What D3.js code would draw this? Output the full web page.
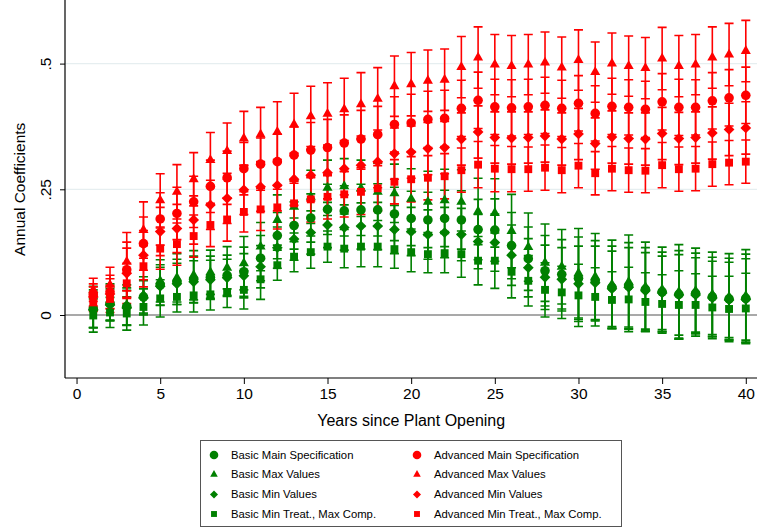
<!DOCTYPE html>
<html>
<head>
<meta charset="utf-8">
<script src="https://cdn.jsdelivr.net/npm/d3@7"></script>
<style>
  html, body { margin: 0; padding: 0; background: #fff; }
  svg { display: block; font-family: "Liberation Sans", Arial, Helvetica, sans-serif; }
</style>
</head>
<body>
<svg id="chart" width="758" height="528"></svg>
<script>
// ---- data -------------------------------------------------------------
const years = [1,2,3,4,5,6,7,8,9,10,11,12,13,14,15,16,17,18,19,20,
               21,22,23,24,25,26,27,28,29,30,31,32,33,34,35,36,37,38,39,40];

const xTicks = [0,5,10,15,20,25,30,35,40];
const yTicks = [0, 0.25, 0.5];
const yTickLabels = ["0", ".25", ".5"];

// Basic specification estimates (green)
const basicMain = [0.012,0.023,0.017,0.036,0.060,0.066,0.071,0.075,0.079,0.086,
                   0.113,0.158,0.178,0.193,0.210,0.207,0.209,0.209,0.201,0.192,
                   0.189,0.192,0.189,0.170,0.169,0.138,0.112,0.088,0.081,0.073,
                   0.068,0.055,0.058,0.051,0.046,0.041,0.043,0.036,0.032,0.033];
const basicMainCI = [0.038,0.034,0.037,0.034,0.040,0.045,0.046,0.042,0.040,0.049,
                     0.045,0.046,0.047,0.048,0.050,0.050,0.051,0.052,0.053,0.054,
                     0.055,0.056,0.058,0.060,0.062,0.066,0.063,0.070,0.069,0.082,
                     0.080,0.082,0.086,0.083,0.079,0.087,0.080,0.079,0.081,0.088];

const basicMax = [0.016,0.026,0.020,0.040,0.068,0.074,0.079,0.085,0.094,0.103,
                  0.136,0.189,0.215,0.235,0.253,0.256,0.252,0.245,0.242,0.231,
                  0.225,0.228,0.225,0.206,0.203,0.167,0.135,0.104,0.096,0.083,
                  0.076,0.061,0.066,0.056,0.051,0.046,0.048,0.041,0.036,0.038];
const basicMaxCI = [0.041,0.036,0.040,0.036,0.042,0.048,0.049,0.044,0.042,0.053,
                    0.048,0.050,0.052,0.053,0.055,0.055,0.056,0.057,0.058,0.060,
                    0.061,0.062,0.064,0.066,0.068,0.073,0.068,0.077,0.074,0.089,
                    0.086,0.088,0.093,0.089,0.084,0.094,0.085,0.084,0.086,0.092];

const basicMin = [0.010,0.020,0.014,0.034,0.057,0.062,0.066,0.070,0.074,0.078,
                  0.096,0.134,0.151,0.164,0.179,0.174,0.177,0.177,0.170,0.166,
                  0.160,0.164,0.160,0.146,0.144,0.119,0.094,0.075,0.071,0.062,
                  0.064,0.052,0.055,0.048,0.044,0.040,0.040,0.034,0.030,0.031];
const basicMinCI = [0.035,0.032,0.035,0.034,0.038,0.041,0.042,0.039,0.037,0.044,
                    0.042,0.041,0.042,0.043,0.045,0.045,0.046,0.047,0.048,0.048,
                    0.049,0.050,0.052,0.054,0.057,0.060,0.058,0.064,0.063,0.075,
                    0.073,0.075,0.079,0.076,0.073,0.080,0.074,0.073,0.075,0.081];

const basicMinTreat = [-0.001,0.005,0.003,0.016,0.033,0.036,0.039,0.041,0.045,0.050,
                       0.071,0.099,0.116,0.125,0.136,0.132,0.136,0.136,0.131,0.125,
                       0.121,0.123,0.121,0.108,0.108,0.086,0.068,0.050,0.045,0.039,
                       0.036,0.030,0.031,0.026,0.022,0.020,0.020,0.015,0.012,0.013];
const basicMinTreatCI = [0.033,0.030,0.033,0.036,0.037,0.030,0.033,0.031,0.030,0.038,
                         0.040,0.030,0.030,0.032,0.031,0.038,0.040,0.040,0.038,0.039,
                         0.037,0.039,0.046,0.048,0.055,0.052,0.050,0.054,0.052,0.062,
                         0.058,0.056,0.064,0.058,0.058,0.068,0.062,0.062,0.065,0.070];

// Advanced specification estimates (red)
const advMain = [0.040,0.046,0.090,0.142,0.191,0.202,0.225,0.256,0.273,0.291,
                 0.300,0.305,0.318,0.328,0.333,0.342,0.350,0.359,0.379,0.382,
                 0.389,0.391,0.411,0.427,0.414,0.412,0.414,0.417,0.411,0.421,
                 0.401,0.415,0.413,0.409,0.424,0.413,0.413,0.426,0.432,0.437];
const advMainCI = [0.022,0.033,0.055,0.053,0.052,0.052,0.051,0.052,0.053,0.052,
                   0.052,0.055,0.056,0.055,0.056,0.056,0.057,0.056,0.055,0.057,
                   0.056,0.056,0.056,0.056,0.055,0.056,0.055,0.056,0.056,0.055,
                   0.055,0.056,0.055,0.056,0.056,0.056,0.055,0.056,0.056,0.056];

const advMax = [0.050,0.060,0.106,0.169,0.228,0.245,0.270,0.308,0.326,0.351,
                0.359,0.364,0.379,0.395,0.400,0.409,0.419,0.430,0.455,0.459,
                0.466,0.468,0.493,0.512,0.498,0.495,0.498,0.502,0.492,0.507,
                0.483,0.500,0.495,0.491,0.510,0.495,0.498,0.512,0.518,0.525];
const advMaxCI = [0.023,0.035,0.058,0.056,0.053,0.054,0.053,0.055,0.056,0.054,
                  0.054,0.060,0.062,0.060,0.062,0.062,0.063,0.062,0.060,0.063,
                  0.061,0.061,0.061,0.061,0.060,0.061,0.060,0.061,0.061,0.060,
                  0.060,0.061,0.060,0.061,0.062,0.061,0.060,0.061,0.062,0.061];

const advMin = [0.036,0.042,0.083,0.119,0.166,0.172,0.189,0.219,0.232,0.249,
                0.255,0.258,0.270,0.278,0.283,0.291,0.298,0.305,0.321,0.324,
                0.331,0.333,0.350,0.364,0.353,0.352,0.353,0.356,0.350,0.360,
                0.341,0.354,0.351,0.350,0.361,0.351,0.353,0.362,0.369,0.372];
const advMinCI = [0.020,0.030,0.050,0.049,0.048,0.048,0.048,0.049,0.050,0.049,
                  0.049,0.051,0.052,0.051,0.052,0.052,0.052,0.052,0.051,0.052,
                  0.052,0.052,0.052,0.052,0.051,0.052,0.051,0.052,0.052,0.051,
                  0.051,0.052,0.051,0.052,0.052,0.052,0.051,0.052,0.052,0.052];

const advMinTreat = [0.025,0.032,0.063,0.097,0.132,0.141,0.157,0.179,0.190,0.205,
                     0.210,0.214,0.222,0.230,0.235,0.240,0.245,0.252,0.265,0.270,
                     0.273,0.276,0.288,0.299,0.291,0.290,0.290,0.293,0.288,0.297,
                     0.282,0.291,0.288,0.287,0.298,0.290,0.291,0.300,0.303,0.305];
const advMinTreatCI = [0.018,0.027,0.040,0.041,0.041,0.042,0.042,0.043,0.043,0.040,
                       0.042,0.043,0.044,0.045,0.044,0.045,0.045,0.045,0.044,0.045,
                       0.044,0.045,0.044,0.046,0.046,0.045,0.044,0.045,0.045,0.044,
                       0.043,0.044,0.044,0.044,0.045,0.044,0.044,0.044,0.044,0.043];

const GREEN = "#008000";
const RED = "#ff0000";

const series = [
  { label: "Basic Main Specification",        values: basicMain,     ci: basicMainCI,     color: GREEN, shape: "circle" },
  { label: "Basic Max Values",                values: basicMax,      ci: basicMaxCI,      color: GREEN, shape: "triangle" },
  { label: "Basic Min Values",                values: basicMin,      ci: basicMinCI,      color: GREEN, shape: "diamond" },
  { label: "Basic Min Treat., Max Comp.",     values: basicMinTreat, ci: basicMinTreatCI, color: GREEN, shape: "square" },
  { label: "Advanced Main Specification",     values: advMain,       ci: advMainCI,       color: RED,   shape: "circle" },
  { label: "Advanced Max Values",             values: advMax,        ci: advMaxCI,        color: RED,   shape: "triangle" },
  { label: "Advanced Min Values",             values: advMin,        ci: advMinCI,        color: RED,   shape: "diamond" },
  { label: "Advanced Min Treat., Max Comp.",  values: advMinTreat,   ci: advMinTreatCI,   color: RED,   shape: "square" }
];

// ---- layout -----------------------------------------------------------
const svg = d3.select("#chart");
const plot = { left: 65, right: 757, top: 0, bottom: 378 };

const x = d3.scaleLinear().domain([-0.69, 40.67]).range([plot.left, plot.right]);
const y = d3.scaleLinear().domain([-0.1253, 0.6265]).range([plot.bottom, plot.top]);

// marker path generator, centred on the origin
function markerPath(shape, s) {
  if (shape === "circle") {
    return d3.symbol(d3.symbolCircle, Math.PI * s * s)();
  }
  if (shape === "triangle") {
    const w = s * 2.1, h = s * 1.85;
    return `M0,${-h * 2 / 3}L${w / 2},${h / 3}L${-w / 2},${h / 3}Z`;
  }
  if (shape === "diamond") {
    const r = s * 1.12;
    return `M0,${-r}L${r},0L0,${r}L${-r},0Z`;
  }
  const q = s * 0.82;
  return `M${-q},${-q}H${q}V${q}H${-q}Z`;
}

// gridlines
svg.append("g")
  .selectAll("line")
  .data(yTicks.filter(t => t !== 0))
  .join("line")
  .attr("x1", plot.left).attr("x2", plot.right)
  .attr("y1", d => y(d)).attr("y2", d => y(d))
  .attr("stroke", "#e6eef0").attr("stroke-width", 1.2);

// zero reference line
svg.append("line")
  .attr("x1", plot.left).attr("x2", plot.right)
  .attr("y1", y(0)).attr("y2", y(0))
  .attr("stroke", "#8c8c8c").attr("stroke-width", 1.6);

// axes
const yAxis = d3.axisLeft(y)
  .tickValues(yTicks)
  .tickFormat((d, i) => yTickLabels[i])
  .tickSize(5).tickSizeOuter(0);
const gy = svg.append("g")
  .attr("transform", `translate(${plot.left},0)`)
  .call(yAxis);
gy.select(".domain").attr("d", `M0,${plot.top}V${plot.bottom}`).attr("stroke", "#000").attr("stroke-width", 1.2);
gy.selectAll(".tick text")
  .attr("font-size", 15.5)
  .attr("fill", "#000")
  .attr("text-anchor", "middle")
  .attr("x", 0).attr("dy", 0)
  .attr("transform", "translate(-14,0) rotate(-90)");

const xAxis = d3.axisBottom(x)
  .tickValues(xTicks)
  .tickFormat(d3.format("d"))
  .tickSize(6).tickSizeOuter(0);
const gx = svg.append("g")
  .attr("transform", `translate(0,${plot.bottom})`)
  .call(xAxis);
gx.select(".domain").attr("d", `M${plot.left},0H${plot.right}`).attr("stroke", "#000").attr("stroke-width", 1.2);
gx.selectAll(".tick line").attr("stroke", "#000");
gx.selectAll(".tick text").attr("font-size", 15.5).attr("fill", "#000").attr("y", 10).attr("dy", "0.71em");
gy.selectAll(".tick line").attr("stroke", "#000");

// axis titles
svg.append("text")
  .attr("x", (x(0) + x(40)) / 2).attr("y", 426)
  .attr("text-anchor", "middle").attr("font-size", 16)
  .text("Years since Plant Opening");

svg.append("text")
  .attr("transform", `translate(25,${y(0.25)}) rotate(-90)`)
  .attr("text-anchor", "middle").attr("font-size", 15.5)
  .text("Annual Coefficients");

// confidence intervals
const capHalf = 4.5;
const bars = svg.append("g");
series.forEach(s => {
  const g = bars.append("g").attr("stroke", s.color).attr("stroke-width", 1.6).attr("fill", "none");
  years.forEach((yr, i) => {
    const cx = x(yr);
    const lo = y(s.values[i] - s.ci[i]);
    const hi = y(s.values[i] + s.ci[i]);
    g.append("path").attr("d",
      `M${cx},${lo}V${hi}M${cx - capHalf},${lo}H${cx + capHalf}M${cx - capHalf},${hi}H${cx + capHalf}`);
  });
});

// point estimates
const marks = svg.append("g");
series.forEach(s => {
  marks.append("g")
    .selectAll("path")
    .data(years.map((yr, i) => ({ yr, v: s.values[i] })))
    .join("path")
    .attr("transform", d => `translate(${x(d.yr)},${y(d.v)})`)
    .attr("d", markerPath(s.shape, 4.8))
    .attr("fill", s.color);
});

// legend
const legend = svg.append("g");
legend.append("rect")
  .attr("x", 200.5).attr("y", 440.5).attr("width", 421).attr("height", 86)
  .attr("fill", "#fff").attr("stroke", "#555").attr("stroke-width", 1);

const rowY = [455, 474.5, 494.5, 514];
const colMarkX = [214, 417];
const colTextX = [231, 434];
series.forEach((s, k) => {
  const col = k < 4 ? 0 : 1;
  const row = k % 4;
  legend.append("path")
    .attr("transform", `translate(${colMarkX[col]},${rowY[row]})`)
    .attr("d", markerPath(s.shape, s.shape === "circle" ? 4.3 : 3.6))
    .attr("fill", s.color);
  legend.append("text")
    .attr("x", colTextX[col]).attr("y", rowY[row]).attr("dy", "0.35em")
    .attr("font-size", 11.3).attr("fill", "#000")
    .text(s.label);
});
</script>
</body>
</html>
